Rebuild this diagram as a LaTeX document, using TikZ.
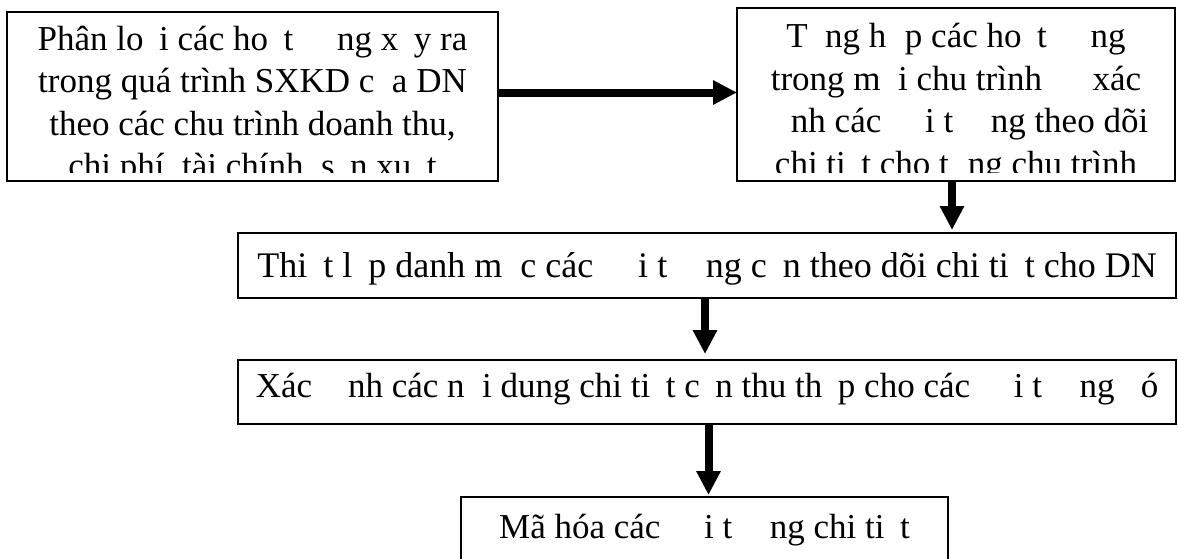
\documentclass[tikz,border=0pt]{standalone}
\usepackage{fontspec}
\setmainfont{Liberation Serif}
\usetikzlibrary{arrows.meta}
% letters that leave only their space behind
\newcommand{\gone}[1]{\phantom{#1}}

\begin{document}
\begin{tikzpicture}[x=1pt, y=-1pt,
  box/.style={draw, line width=1.6pt, inner sep=0pt, outer sep=0pt},
  bigtext/.style={draw=none, font=\fontsize{35}{42.5}\selectfont, align=center, inner sep=0pt},
  % text set in the box, cut off a margin above its bottom: (drop to last baseline, name, text)
  boxtext/.style n args={3}{path picture={
    \clip ([yshift=9pt]path picture bounding box.south west) rectangle (path picture bounding box.north east);
    \node[bigtext, anchor=base] (#2) at ([yshift=-#1]path picture bounding box.north) {#3};}},
  flow/.style={line width=8pt, -{Triangle[length=24pt, width=23pt]}}]

\useasboundingbox (0,0) rectangle (1178,558);

% Top row: classify, then collect per cycle
\node[box, minimum width=491pt, minimum height=169pt,
  boxtext={165.5pt}{classify-text}{Phân lo\gone{ạ}i các ho\gone{ạ}t \gone{độ}ng x\gone{ả}y ra\\
    trong quá trình SXKD c\gone{ủ}a DN\\
    theo các chu trình doanh thu,\\
    chi phí, tài chính, s\gone{ả}n xu\gone{ấ}t}] (classify) at (252.5,96.5) {};
\node[box, minimum width=438pt, minimum height=173pt,
  boxtext={167pt}{collect-text}{T\gone{ổ}ng h\gone{ợ}p các ho\gone{ạ}t \gone{độ}ng\\
    trong m\gone{ỗ}i chu trình \gone{để} xác\\
    \gone{đị}nh các \gone{đố}i t\gone{ượ}ng theo dõi\\
    chi ti\gone{ế}t cho t\gone{ừ}ng chu trình}] (collect) at (956,94.5) {};

% Wide steps
\node[box, minimum width=938pt, minimum height=65pt,
  boxtext={44pt}{plan-text}{\fontsize{36}{42.5}\selectfont Thi\gone{ế}t l\gone{ậ}p danh m\gone{ụ}c các \gone{đố}i t\gone{ượ}ng c\gone{ầ}n theo dõi chi ti\gone{ế}t cho DN}] (plan) at (707,265.5) {};
\node[box, minimum width=938pt, minimum height=64pt,
  boxtext={37pt}{detail-text}{Xác \gone{đị}nh các n\gone{ộ}i dung chi ti\gone{ế}t c\gone{ầ}n thu th\gone{ậ}p cho các \gone{đố}i t\gone{ượ}ng \gone{đ}ó}] (detail) at (707,392) {};

% Last step runs off the page
\node[box, minimum width=487pt, minimum height=84pt,
  boxtext={41pt}{encode-text}{Mã hóa các \gone{đố}i t\gone{ượ}ng chi ti\gone{ế}t}] (encode) at (704.5,539) {};

% Arrows
\draw[flow] ([yshift=4pt]classify.east) -- ([yshift=4pt]classify.east -| collect.west);
\draw[flow, shorten >=3pt] ([xshift=-4pt]collect.south) -- ([xshift=-4pt]collect.south |- plan.north);
\draw[flow, shorten >=6pt] ([xshift=-2pt]plan.south) -- ([xshift=-2pt]detail.north);
\draw[flow, shorten >=2pt] ([xshift=1.5pt]detail.south) -- ([xshift=1.5pt]detail.south |- encode.north);

\end{tikzpicture}
\end{document}
